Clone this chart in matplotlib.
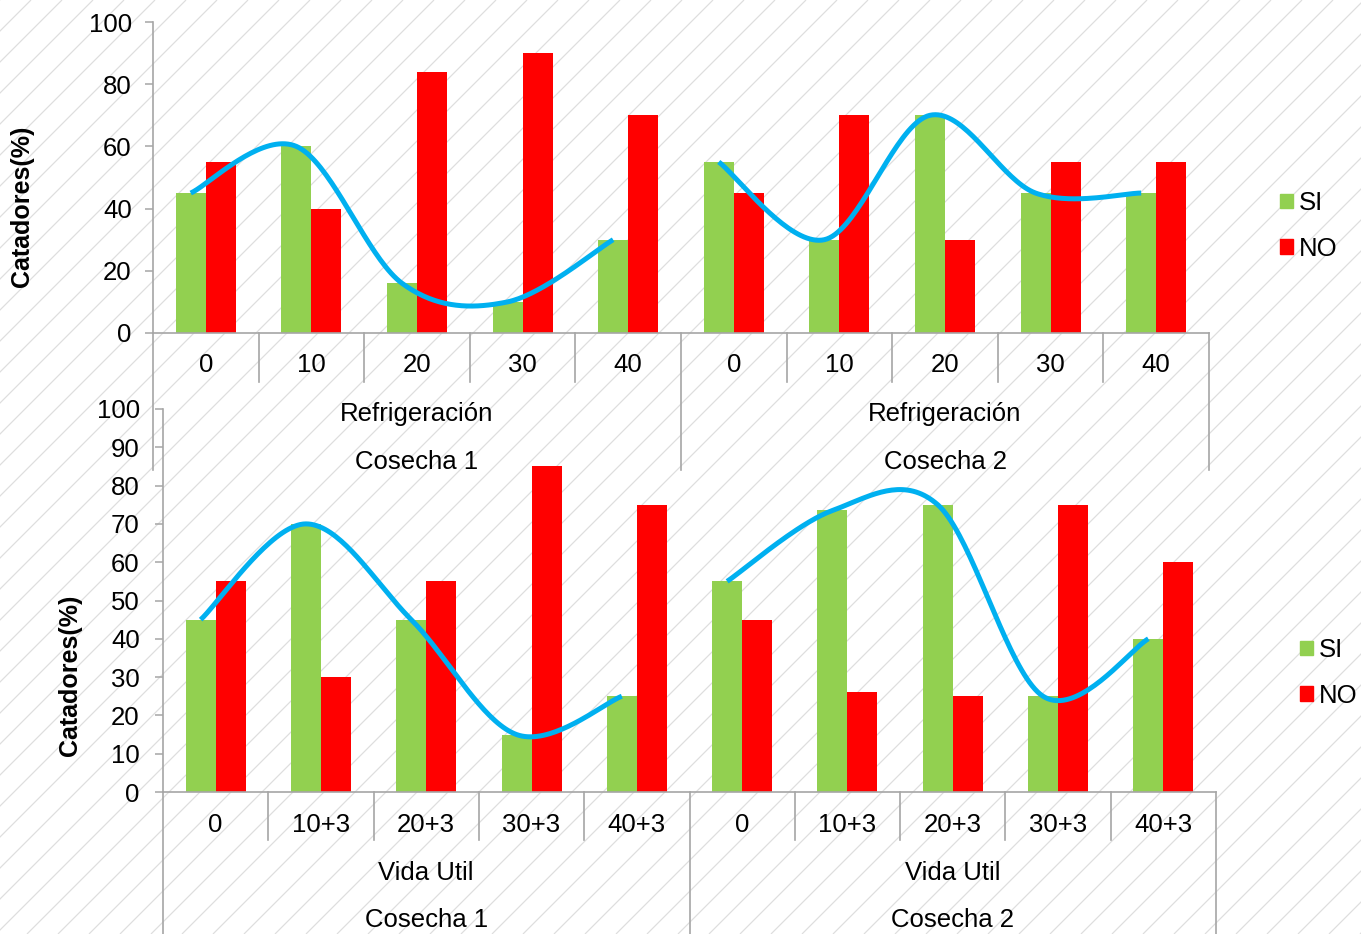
import numpy as np
import matplotlib
matplotlib.use('Agg')
import matplotlib.pyplot as plt
from matplotlib.patches import Patch

plt.rcParams['font.family'] = ['Liberation Sans', 'DejaVu Sans']

# ---------------- data ----------------
top_cats = ['0', '10', '20', '30', '40', '0', '10', '20', '30', '40']
top_mid = ['Refrigeración', 'Refrigeración']
top_outer = ['Cosecha 1', 'Cosecha 2']
top_si = [45, 60, 16, 10, 30, 55, 30, 70, 45, 45]
top_no = [55, 40, 84, 90, 70, 45, 70, 30, 55, 55]

bot_cats = ['0', '10+3', '20+3', '30+3', '40+3', '0', '10+3', '20+3', '30+3', '40+3']
bot_mid = ['Vida Util', 'Vida Util']
bot_outer = ['Cosecha 1', 'Cosecha 2']
bot_si = [45, 70, 45, 15, 25, 55, 73.5, 75, 25, 40]
bot_no = [55, 30, 55, 85, 75, 45, 26, 25, 75, 60]

series_names = ['SI', 'NO']

GREEN = '#92D050'
RED = '#FF0000'
BLUE = '#00B0F0'
AXC = '#A6A6A6'
W, H = 1361, 934
FS = 18.5

fig = plt.figure(figsize=(W / 100, H / 100), dpi=100)

# ---------------- background hatch ----------------
bg = fig.add_axes([0, 0, 1, 1], zorder=-10)
bg.set_xlim(0, W)
bg.set_ylim(H, 0)
bg.axis('off')
for c in np.arange(-H, W + H, 31):
    bg.plot([c, c + H], [H, 0], color='#dedede', lw=0.9, solid_capstyle='butt')


def catmull(xs, ys, n=40):
    xs = np.asarray(xs, float)
    ys = np.asarray(ys, float)
    P = np.column_stack([xs, ys])
    out = []
    m = len(P)
    for i in range(m - 1):
        p0 = P[i - 1] if i > 0 else P[i]
        p1 = P[i]
        p2 = P[i + 1]
        p3 = P[i + 2] if i + 2 < m else P[i + 1]
        c1 = p1 + (p2 - p0) / 6.0
        c2 = p2 - (p3 - p1) / 6.0
        t = np.linspace(0, 1, n)[:, None]
        seg = ((1 - t) ** 3) * p1 + 3 * ((1 - t) ** 2) * t * c1 + 3 * (1 - t) * t ** 2 * c2 + t ** 3 * p2
        out.append(seg)
    out = np.vstack(out)
    return out[:, 0], out[:, 1]


def panel(rect_px, si, no, cats, mids, outers, ystep, ypad_px,
          inner_px, outer_px, lab_px):
    left, top, right, bottom = rect_px
    axh = bottom - top
    ax = fig.add_axes([left / W, 1 - bottom / H, (right - left) / W, axh / H])
    ax.patch.set_alpha(0)
    n = len(si)
    x = np.arange(n)
    bw = 0.285
    ax.bar(x - bw / 2, si, bw, color=GREEN, zorder=2)
    ax.bar(x + bw / 2, no, bw, color=RED, zorder=2)
    # smoothed line through SI values (5 per group)
    for g in range(2):
        idx = slice(g * 5, g * 5 + 5)
        cx, cy = catmull(x[idx] - bw / 2, si[idx])
        ax.plot(cx, cy, color=BLUE, lw=3.6, zorder=3, solid_capstyle='butt')
    ax.set_xlim(-0.5, n - 0.5)
    ax.set_ylim(0, 100)
    ax.set_yticks(np.arange(0, 101, ystep))
    ax.tick_params(axis='y', length=6, width=1.1, color=AXC, labelsize=FS, pad=ypad_px * 0.72)
    ax.set_xticks([])
    for s in ['top', 'right']:
        ax.spines[s].set_visible(False)
    for s in ['left', 'bottom']:
        ax.spines[s].set_color(AXC)
        ax.spines[s].set_linewidth(1.2)
    tr = ax.get_xaxis_transform()
    f = lambda px: -px / axh
    # separators
    for b in np.arange(-0.5, n, 1.0):
        if b in (-0.5, 4.5, 9.5):
            ax.plot([b, b], [0, f(outer_px)], transform=tr, color=AXC, lw=1.2, clip_on=False)
        else:
            ax.plot([b, b], [0, f(inner_px)], transform=tr, color=AXC, lw=1.2, clip_on=False)
    for i, c in enumerate(cats):
        ax.text(i, f(lab_px[0]), c, transform=tr, ha='center', va='center', fontsize=FS)
    for g in range(2):
        ax.text(g * 5 + 2, f(lab_px[1]), mids[g], transform=tr, ha='center', va='center', fontsize=FS)
        ax.text(g * 5 + 2, f(lab_px[2]), outers[g], transform=tr, ha='center', va='center', fontsize=FS)
    return ax


ax1 = panel((153, 22, 1209, 333), np.array(top_si), np.array(top_no), top_cats, top_mid, top_outer,
            20, 13, 49, 137, (32, 81, 129))
ax2 = panel((163, 409, 1216, 792), np.array(bot_si), np.array(bot_no), bot_cats, bot_mid, bot_outer,
            10, 15, 48, 150, (33, 81, 128))

fig.text(22 / W, 1 - 206 / H, 'Catadores(%)', rotation=90, ha='center', va='center',
         fontsize=18, fontweight='bold')
fig.text(70 / W, 1 - 675 / H, 'Catadores(%)', rotation=90, ha='center', va='center',
         fontsize=18, fontweight='bold')

handles = [Patch(color=GREEN), Patch(color=RED)]
for (lx, ly) in [(1280, 226), (1300, 673)]:
    fig.legend(handles, series_names, loc='center left', bbox_to_anchor=(lx / W, 1 - ly / H),
               frameon=False, fontsize=FS, handlelength=0.5, handleheight=0.5,
               handletextpad=0.25, labelspacing=0.85, borderaxespad=0, borderpad=0)

fig.savefig('out.png', dpi=100)
